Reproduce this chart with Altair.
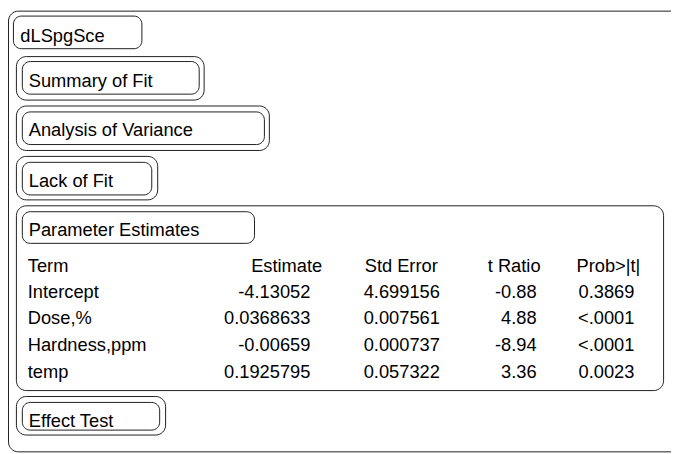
import altair as alt
import pandas as pd

# ---- content ----
report_title = "dLSpgSce"
sections = ["Summary of Fit", "Analysis of Variance", "Lack of Fit", "Parameter Estimates", "Effect Test"]
columns = ["Term", "Estimate", "Std Error", "t Ratio", "Prob>|t|"]
terms = ["Intercept", "Dose,%", "Hardness,ppm", "temp"]
estimates = ["-4.13052", "0.0368633", "-0.00659", "0.1925795"]
std_errors = ["4.699156", "0.007561", "0.000737", "0.057322"]
t_ratios = ["-0.88", "4.88", "-8.94", "3.36"]
probs = ["0.3869", "<.0001", "<.0001", "0.0023"]

# ---- layout (page pixel coords; chart origin sits at page (8, 8)) ----
W, H = 671, 446
OFF = 8.0

def c(v):
    return v - OFF

# outline boxes: (x1, y1, x2, y2)
outer_boxes = [
    (8.5, 8.5, 690.0, 454.5),          # whole report frame
    (16.5, 54.5, 206.5, 98.5),
    (16.5, 104.5, 272.5, 149.5),
    (16.5, 155.5, 159.5, 199.5),
    (16.5, 205.5, 671.5, 392.5),
    (16.5, 398.5, 167.5, 437.5),
]
inner_boxes = [
    (13.5, 13.5, 143.5, 46.5),          # report title box
    (22.5, 59.5, 201.5, 92.5),
    (22.5, 110.5, 267.5, 143.5),
    (22.5, 161.5, 153.5, 194.5),
    (22.5, 211.5, 257.5, 243.5),
    (22.5, 404.5, 161.5, 432.5),
]
title_pos = (20.5, 39.5)
section_baselines = [85.5, 134.5, 186, 236.5, 429.5]
section_x = 29

row_baselines = [272.5, 298.5, 325.5, 352.5, 380]
# column anchors: (header_x, header_align, value_x, value_align)
col_anchor = [
    (28, "left", 28, "left"),
    (326, "right", 314, "right"),
    (369, "left", 368, "left"),
    (547, "right", 543, "right"),
    (648, "right", 642, "right"),
]

boxes_rows = []
for kind, lst in (("outer", outer_boxes), ("inner", inner_boxes)):
    for (x1, y1, x2, y2) in lst:
        boxes_rows.append(dict(kind=kind, x1=c(x1), y1=c(y1), x2=c(x2), y2=c(y2)))
boxes = pd.DataFrame(boxes_rows)

texts = []
texts.append(dict(text=report_title, x=c(title_pos[0]), y=c(title_pos[1]), anchor="left"))
for s, b in zip(sections, section_baselines):
    texts.append(dict(text=s, x=c(section_x), y=c(b), anchor="left"))
for j, h in enumerate(columns):
    hx, ha, _, _ = col_anchor[j]
    texts.append(dict(text=h, x=c(hx), y=c(row_baselines[0]), anchor=ha))
cols_vals = [terms, estimates, std_errors, t_ratios, probs]
for j, vals in enumerate(cols_vals):
    _, _, vx, va = col_anchor[j]
    for i, v in enumerate(vals):
        texts.append(dict(text=v, x=c(vx), y=c(row_baselines[i + 1]), anchor=va))
tdf = pd.DataFrame(texts)

xs = alt.Scale(domain=[0, W], range=[0, W], nice=False, zero=False)
ys = alt.Scale(domain=[0, H], range=[0, H], nice=False, zero=False)

def box_layer(kind, radius):
    return alt.Chart(boxes[boxes["kind"] == kind]).mark_rect(
        filled=False, stroke="#1e1e1e", strokeWidth=1, cornerRadius=radius
    ).encode(
        x=alt.X("x1:Q", scale=xs, axis=None),
        x2="x2:Q",
        y=alt.Y("y1:Q", scale=ys, axis=None),
        y2="y2:Q",
    )

def text_layer(align):
    return alt.Chart(tdf[tdf["anchor"] == align]).mark_text(
        align=align, baseline="alphabetic", font="Liberation Sans", fontSize=18.5,
        color="#000000"
    ).encode(
        x=alt.X("x:Q", scale=xs, axis=None),
        y=alt.Y("y:Q", scale=ys, axis=None),
        text="text:N",
    )

chart = alt.layer(
    box_layer("outer", 10),
    box_layer("inner", 8),
    text_layer("left"),
    text_layer("right"),
).properties(
    width=W, height=H, padding=0,
    autosize=alt.AutoSizeParams(type="none"),
    background="#ffffff",
).configure_view(stroke=None)

chart.save("out.html", embed_options={"renderer": "svg", "actions": False})
